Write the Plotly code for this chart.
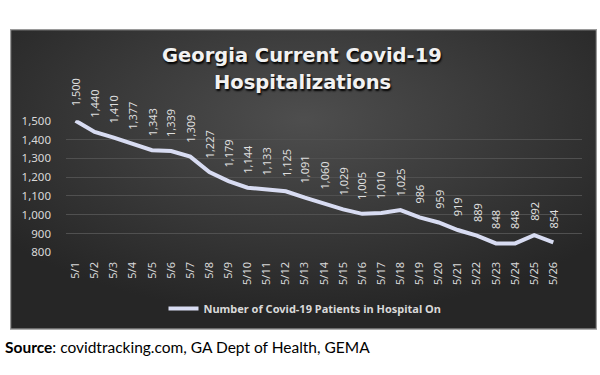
import base64
import plotly.graph_objects as go

dates = ["5/1", "5/2", "5/3", "5/4", "5/5", "5/6", "5/7", "5/8", "5/9", "5/10",
         "5/11", "5/12", "5/13", "5/14", "5/15", "5/16", "5/17", "5/18", "5/19",
         "5/20", "5/21", "5/22", "5/23", "5/24", "5/25", "5/26"]
patients = [1500, 1440, 1410, 1377, 1343, 1339, 1309, 1227, 1179, 1144,
            1133, 1125, 1091, 1060, 1029, 1005, 1010, 1025, 986,
            959, 919, 889, 848, 848, 892, 854]
series_name = "Number of Covid-19 Patients in Hospital On"
title_lines = ["Georgia Current Covid-19", "Hospitalizations"]
source_text = "<b>Source</b>: covidtracking.com, GA Dept of Health, GEMA"

W, H = 600, 375

svg = ("<svg xmlns='http://www.w3.org/2000/svg' width='587' height='313' viewBox='0 0 587 313' preserveAspectRatio='none'>"
       "<defs><radialGradient id='g' cx='0.5' cy='0.3' r='0.65'>"
       "<stop offset='0' stop-color='#4e4e4e'/><stop offset='1' stop-color='#262626'/>"
       "</radialGradient></defs>"
       "<rect x='0' y='0' width='587' height='313' fill='url(#g)'/>"
       "<rect x='0.5' y='0.5' width='586' height='312' fill='none' stroke='#9a9a9a' stroke-width='1.5'/>"
       "</svg>")
bg_src = "data:image/svg+xml;base64," + base64.b64encode(svg.encode()).decode()

fig = go.Figure()
fig.add_trace(go.Scatter(
    x=dates, y=patients, mode="lines", name=series_name,
    line=dict(color="#d8dcf2", width=4),
    hoverinfo="skip",
))

annotations = []
for d, v in zip(dates, patients):
    annotations.append(dict(
        x=d, y=v, xref="x", yref="y", text=f"{v:,}", showarrow=False,
        textangle=-90, yanchor="bottom", yshift=12,
        font=dict(family="Noto Sans", size=11, color="#dedede"),
    ))

title_font = dict(family="DejaVu Sans", size=19.5, color="#f2f2f2", weight="bold",
                  shadow="1px 2px 2px #000")
annotations.append(dict(
    x=302 / W, y=1 - 50 / H, xref="paper", yref="paper", text=title_lines[0],
    showarrow=False, xanchor="center", yanchor="middle", font=title_font,
))
annotations.append(dict(
    x=302 / W, y=1 - 78 / H, xref="paper", yref="paper", text=title_lines[1],
    showarrow=False, xanchor="center", yanchor="middle", font=title_font,
))
annotations.append(dict(
    x=3 / W, y=1 - 353 / H, xref="paper", yref="paper", text=source_text,
    showarrow=False, xanchor="left", yanchor="middle",
    font=dict(family="Lato", size=15.5, color="#000000"),
))

fig.update_layout(
    width=W, height=H, autosize=False,
    margin=dict(l=0, r=0, t=0, b=0, pad=0),
    paper_bgcolor="#ffffff",
    plot_bgcolor="rgba(0,0,0,0)",
    showlegend=True,
    legend=dict(
        orientation="h", x=305 / W, y=1 - 313 / H, xanchor="center", yanchor="middle",
        font=dict(family="Noto Sans", size=11, color="#d9d9d9", weight="bold"),
        bgcolor="rgba(0,0,0,0)", itemwidth=30,
    ),
    images=[dict(
        source=bg_src, xref="paper", yref="paper",
        x=10 / W, y=1 - 22 / H, sizex=587 / W, sizey=313 / H,
        xanchor="left", yanchor="top", sizing="stretch", layer="below",
    )],
    annotations=annotations,
    xaxis=dict(
        type="category", range=[-0.5, 26.5], domain=[66 / W, 582 / W],
        showgrid=False, zeroline=False, showline=False, ticks="",
        tickangle=-90, ticklabelstandoff=6,
        tickfont=dict(family="Noto Sans", size=11, color="#d9d9d9"),
        fixedrange=True,
    ),
    yaxis=dict(
        range=[798, 1502], domain=[1 - 255 / H, 1 - 117 / H],
        dtick=100, tick0=800, tickformat=",",
        showgrid=True, gridcolor="#505050", gridwidth=1,
        zeroline=False, showline=False, ticks="", ticklabelstandoff=14,
        tickfont=dict(family="Noto Sans", size=11.5, color="#d9d9d9"),
        fixedrange=True,
    ),
)

fig.write_html(
    "out.html",
    config={"responsive": False, "displayModeBar": False, "staticPlot": True},
    post_script="document.body.style.margin='0';document.body.style.padding='0';",
)
